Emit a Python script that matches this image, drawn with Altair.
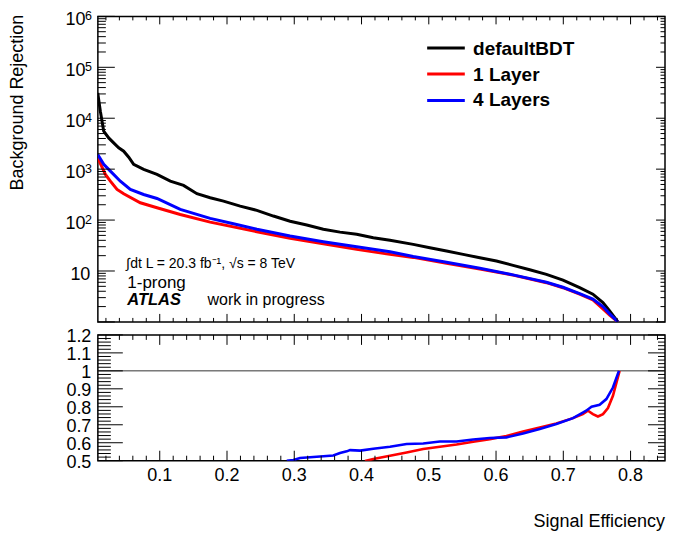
import altair as alt
import pandas as pd

# ---------------- data ----------------
# Upper panel: background rejection vs signal efficiency
black_x = [0.0078, 0.0117, 0.0167, 0.0241, 0.0315, 0.0390, 0.0464, 0.0539, 0.0612, 0.0761,
           0.0959, 0.1157, 0.1354, 0.1553, 0.175, 0.1948, 0.2196, 0.2444, 0.269, 0.2938,
           0.3186, 0.3432, 0.368, 0.3928, 0.4175, 0.4423, 0.4769, 0.5016, 0.5264, 0.5511,
           0.5759, 0.6006, 0.6253, 0.6501, 0.6749, 0.6995, 0.7243, 0.744, 0.7589, 0.7689, 0.7812]
black_y = [31400, 13700, 5560, 4110, 3280, 2620, 2250, 1720, 1240, 990,
           790, 580, 480, 330, 275, 236, 188, 155, 120, 95,
           80, 66, 58, 52.5, 45, 40, 33.3, 28.6, 24.7, 21.2,
           18.2, 15.7, 12.9, 10.6, 8.6, 6.6, 4.7, 3.5, 2.4, 1.64, 1.0]

red_x = [0.0078, 0.0192, 0.0266, 0.0365, 0.0464, 0.0711, 0.0959, 0.1305, 0.175, 0.2444,
         0.2938, 0.3432, 0.3928, 0.4423, 0.4769, 0.5264, 0.5759, 0.6253, 0.6749, 0.6995,
         0.7243, 0.744, 0.7589, 0.7689, 0.7812]
red_y = [1670, 790, 580, 400, 328, 219, 175, 129, 91, 59,
         43.7, 34.4, 26.6, 21.2, 18.5, 14.2, 10.9, 8.3, 5.9, 4.7,
         3.5, 2.7, 1.8, 1.36, 1.0]

blue_x = [0.0078, 0.0167, 0.0266, 0.0414, 0.0563, 0.076, 0.0959, 0.1305, 0.175, 0.2096,
          0.2444, 0.2938, 0.3432, 0.3928, 0.4423, 0.4769, 0.5264, 0.5759, 0.6253, 0.6749,
          0.6995, 0.7243, 0.744, 0.7589, 0.7689, 0.7812]
blue_y = [1940, 1240, 915, 580, 400, 318, 266, 162, 108, 85,
          66, 48.5, 37.6, 30, 23.9, 19.2, 14.9, 11.3, 8.4, 6.0,
          4.8, 3.6, 2.8, 2.0, 1.44, 1.0]

# Lower panel: ratio to defaultBDT
ratio_red_x = [0.4051, 0.4175, 0.4423, 0.467, 0.4917, 0.5165, 0.5413, 0.566, 0.5907, 0.6155,
               0.6402, 0.665, 0.6897, 0.7144, 0.729, 0.7367, 0.744, 0.7515, 0.759, 0.7664,
               0.7738, 0.7837]
ratio_red_y = [0.498, 0.509, 0.528, 0.546, 0.565, 0.578, 0.59, 0.605, 0.620, 0.637,
               0.663, 0.685, 0.707, 0.737, 0.759, 0.778, 0.759, 0.746, 0.759, 0.793,
               0.861, 1.0]

ratio_blue_x = [0.2889, 0.2987, 0.3086, 0.3334, 0.358, 0.368, 0.378, 0.383, 0.398, 0.4175,
                0.4423, 0.467, 0.4917, 0.5165, 0.5413, 0.566, 0.5907, 0.6155, 0.6402, 0.665,
                0.6897, 0.7144, 0.729, 0.734, 0.742, 0.754, 0.764, 0.7738, 0.7827]
ratio_blue_y = [0.499, 0.504, 0.515, 0.522, 0.529, 0.543, 0.552, 0.559, 0.556, 0.567,
                0.578, 0.593, 0.596, 0.607, 0.607, 0.618, 0.626, 0.630, 0.652, 0.676,
                0.704, 0.737, 0.768, 0.778, 0.800, 0.811, 0.843, 0.907, 1.0]

series_names = ["defaultBDT", "1 Layer", "4 Layers"]
series_colors = ["#000000", "#ff0000", "#0000ff"]

# tick positions / labels
x_major = [0.1, 0.2, 0.3, 0.4, 0.5, 0.6, 0.7, 0.8]
x_major_labels = ["0.1", "0.2", "0.3", "0.4", "0.5", "0.6", "0.7", "0.8"]
x_minor = [round(0.02 * i, 2) for i in range(1, 43) if i % 5 != 0]
y_up_major = [1, 10, 100, 1000, 10000, 100000, 1000000]
y_up_exp_vals = [100, 1000, 10000, 100000, 1000000]
y_up_exp_labels = ["2", "3", "4", "5", "6"]
y_up_minor = [m * 10 ** k for k in range(6) for m in range(2, 10)]
y_lo_major = [0.5, 0.6, 0.7, 0.8, 0.9, 1.0, 1.1, 1.2]
y_lo_labels = ["0.5", "0.6", "0.7", "0.8", "0.9", "1", "1.1", "1.2"]
y_lo_minor = [round(0.5 + 0.02 * i, 2) for i in range(1, 35) if i % 5 != 0]

# ---------------- layout / style ----------------
FONT = "Liberation Sans"
W = 568
H_UP = 306
H_LO = 126

xs = alt.Scale(domain=[0.008, 0.8512], zero=False, nice=False)
ys_up = alt.Scale(type="log", domain=[1, 1e6], nice=False)
ys_lo = alt.Scale(domain=[0.5, 1.2], zero=False, nice=False)


def line_layer(xv, yv, color, yscale, width=3.0):
    df = pd.DataFrame({"x": xv, "y": yv})
    return alt.Chart(df).mark_line(color=color, strokeWidth=width, clip=True).encode(
        x=alt.X("x:Q", scale=xs, axis=None),
        y=alt.Y("y:Q", scale=yscale, axis=None),
    )


def xticks(vals, y0, y1):
    return alt.Chart(pd.DataFrame({"x": vals})).mark_rule(color="black", strokeWidth=1).encode(
        x=alt.X("x:Q", scale=xs, axis=None), y=alt.value(y0), y2=alt.value(y1))


def yticks(vals, yscale, x0, x1):
    return alt.Chart(pd.DataFrame({"y": vals})).mark_rule(color="black", strokeWidth=1).encode(
        y=alt.Y("y:Q", scale=yscale, axis=None), x=alt.value(x0), x2=alt.value(x1))


def ylabels(vals, texts, yscale, x, dy, size, align="right"):
    df = pd.DataFrame({"y": vals, "t": texts})
    return alt.Chart(df).mark_text(align=align, baseline="alphabetic", font=FONT,
                                   fontSize=size, dy=dy, color="black").encode(
        y=alt.Y("y:Q", scale=yscale, axis=None), x=alt.value(x), text="t:N")


def xlabels(vals, texts, y, size):
    df = pd.DataFrame({"x": vals, "t": texts})
    return alt.Chart(df).mark_text(align="center", baseline="alphabetic", font=FONT,
                                   fontSize=size, color="black").encode(
        x=alt.X("x:Q", scale=xs, axis=None), y=alt.value(y), text="t:N")


def label(text, x, y, size, weight="normal", style="normal", align="left", angle=0):
    return alt.Chart(pd.DataFrame({"t": [text]})).mark_text(
        align=align, baseline="alphabetic", font=FONT, fontSize=size, angle=angle,
        fontWeight=weight, fontStyle=style, color="black").encode(
        text="t:N", x=alt.value(x), y=alt.value(y))


def legend_line(color, x0, x1, y):
    return alt.Chart(pd.DataFrame({"c": [color]})).mark_rule(color=color, strokeWidth=3).encode(
        x=alt.value(x0), x2=alt.value(x1), y=alt.value(y))


# ---------------- upper panel ----------------
upper_layers = [
    line_layer(black_x, black_y, series_colors[0], ys_up),
    line_layer(red_x, red_y, series_colors[1], ys_up),
    line_layer(blue_x, blue_y, series_colors[2], ys_up),
    xticks(x_major, H_UP, H_UP - 8), xticks(x_minor, H_UP, H_UP - 4),
    xticks(x_major, 0, 8), xticks(x_minor, 0, 4),
    yticks(y_up_major, ys_up, 0, 17), yticks(y_up_minor, ys_up, 0, 8),
    yticks(y_up_major, ys_up, W, W - 9), yticks(y_up_minor, ys_up, W, W - 4.5),
    # tick labels: "10" plus exponent
    ylabels([10], ["10"], ys_up, -7.5, 9, 18),
    ylabels(y_up_exp_vals, ["10"] * len(y_up_exp_vals), ys_up, -12.5, 9, 18),
    ylabels(y_up_exp_vals, y_up_exp_labels, ys_up, -12.8, 3.5, 12.5, align="left"),
    # y title
    label("Background Rejection", -75, -1.7, 18, align="right", angle=270),
]
leg_y_lines = [31.7, 57.7, 84.3]
leg_y_text = [38.3, 64.3, 89.5]
for name, col, yl, yt in zip(series_names, series_colors, leg_y_lines, leg_y_text):
    upper_layers.append(legend_line(col, 329.8, 367.5, yl))
    upper_layers.append(label(name, 375.8, yt, 19, weight="bold"))

upper_layers += [
    label("∫dt L = 20.3 fb⁻¹, √s = 8 TeV", 28.5, 251.7, 14),
    label("1-prong", 29.5, 271.7, 17),
    label("ATLAS", 29.5, 289.3, 16.5, weight="bold", style="italic"),
    label("work in progress", 109.8, 289.3, 16),
]
upper = alt.layer(*upper_layers).properties(width=W, height=H_UP)

# ---------------- lower panel ----------------
one_line = alt.Chart(pd.DataFrame({"y": [1.0]})).mark_rule(color="#333333", strokeWidth=1).encode(
    y=alt.Y("y:Q", scale=ys_lo, axis=None))

lower_layers = [
    one_line,
    line_layer(ratio_red_x, ratio_red_y, series_colors[1], ys_lo, width=2.6),
    line_layer(ratio_blue_x, ratio_blue_y, series_colors[2], ys_lo, width=2.6),
    xticks(x_major, H_LO, H_LO - 10), xticks(x_minor, H_LO, H_LO - 5),
    xticks(x_major, 0, 10), xticks(x_minor, 0, 5),
    yticks(y_lo_major, ys_lo, 0, 25), yticks(y_lo_minor, ys_lo, 0, 13),
    yticks(y_lo_major, ys_lo, W, W - 17), yticks(y_lo_minor, ys_lo, W, W - 7),
    ylabels(y_lo_major, y_lo_labels, ys_lo, -6.5, 7, 18),
    xlabels(x_major, x_major_labels, H_LO + 20.2, 18),
    label("Signal Efficiency", W, H_LO + 66.7, 18, align="right"),
]
lower = alt.layer(*lower_layers).properties(width=W, height=H_LO)

chart = alt.vconcat(upper, lower, spacing=13, bounds="flush").properties(
    padding={"left": 0, "top": 0, "right": 0, "bottom": 0}
).configure_view(stroke="black", strokeWidth=1.5)

chart.save("out.html", embed_options={"renderer": "svg", "actions": False})
